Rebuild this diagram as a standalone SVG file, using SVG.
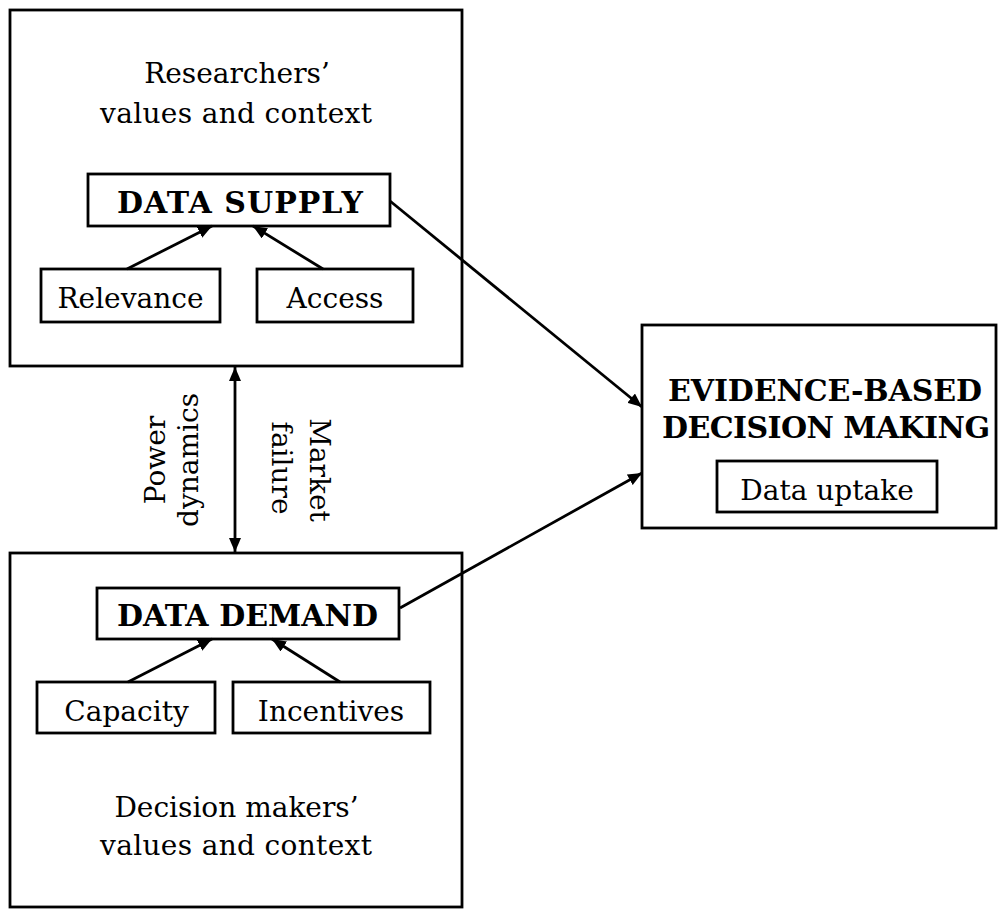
<svg xmlns="http://www.w3.org/2000/svg" width="999" height="909" viewBox="0 0 999 909">
<style>
.box{fill:none;stroke:#000;stroke-width:2.8}
.lbl{font-family:"DejaVu Serif","Liberation Serif",serif;font-size:28px;fill:#000;text-anchor:middle}
.bold{font-family:"DejaVu Serif","Liberation Serif",serif;font-size:30px;font-weight:bold;fill:#000;text-anchor:middle}
.conn{fill:none;stroke:#000;stroke-width:2.8}
</style>
<defs>
<marker id="ah" viewBox="0 0 14 12" refX="14" refY="6" markerWidth="14" markerHeight="12" markerUnits="userSpaceOnUse" orient="auto-start-reverse">
<path d="M0,0 L14,6 L0,12 z" fill="#000"/>
</marker>
</defs>
<rect width="999" height="909" fill="#fff"/>
<g id="researchers">
<rect class="box" x="10" y="10" width="452" height="356"/>
<text class="lbl" x="237" y="83">Researchers’</text>
<text class="lbl" x="236" y="123" textLength="272">values and context</text>
</g>
<g id="data-supply">
<rect class="box" x="88" y="174" width="302" height="52"/>
<text class="bold" x="240" y="213" textLength="246">DATA SUPPLY</text>
</g>
<g id="relevance">
<rect class="box" x="41" y="269" width="179" height="53"/>
<text class="lbl" x="130.5" y="308">Relevance</text>
</g>
<g id="access">
<rect class="box" x="257" y="269" width="156" height="53"/>
<text class="lbl" x="335" y="308">Access</text>
</g>
<g id="decision-makers">
<rect class="box" x="10" y="553" width="452" height="354"/>
<text class="lbl" x="236.5" y="817">Decision makers’</text>
<text class="lbl" x="236" y="855" textLength="272">values and context</text>
</g>
<g id="data-demand">
<rect class="box" x="97" y="588" width="302" height="51"/>
<text class="bold" x="247.5" y="626" textLength="261">DATA DEMAND</text>
</g>
<g id="capacity">
<rect class="box" x="37" y="682" width="178" height="51"/>
<text class="lbl" x="126.5" y="721">Capacity</text>
</g>
<g id="incentives">
<rect class="box" x="233" y="682" width="197" height="51"/>
<text class="lbl" x="331" y="721">Incentives</text>
</g>
<g id="ebdm">
<rect class="box" x="642" y="325" width="354" height="203"/>
<text class="bold" x="825" y="401" textLength="314">EVIDENCE-BASED</text>
<text class="bold" x="826" y="438" textLength="328">DECISION MAKING</text>
</g>
<g id="data-uptake">
<rect class="box" x="717" y="461" width="220" height="51"/>
<text class="lbl" x="827" y="500">Data uptake</text>
</g>
<g id="connectors">
<line class="conn" x1="127" y1="269" x2="212" y2="226" marker-end="url(#ah)"/>
<line class="conn" x1="323" y1="269" x2="253" y2="226" marker-end="url(#ah)"/>
<line class="conn" x1="128" y1="682" x2="212" y2="639" marker-end="url(#ah)"/>
<line class="conn" x1="340" y1="682" x2="272" y2="639" marker-end="url(#ah)"/>
<line class="conn" x1="390" y1="201" x2="642" y2="407" marker-end="url(#ah)"/>
<line class="conn" x1="400" y1="608" x2="642" y2="473" marker-end="url(#ah)"/>
<line class="conn" x1="235" y1="367" x2="235" y2="552" marker-start="url(#ah)" marker-end="url(#ah)"/>
<text class="lbl" transform="translate(165,460) rotate(-90)">Power</text>
<text class="lbl" transform="translate(198,460) rotate(-90)">dynamics</text>
<text class="lbl" transform="translate(310,470) rotate(90)">Market</text>
<text class="lbl" transform="translate(272,468) rotate(90)">failure</text>
</g>
</svg>
